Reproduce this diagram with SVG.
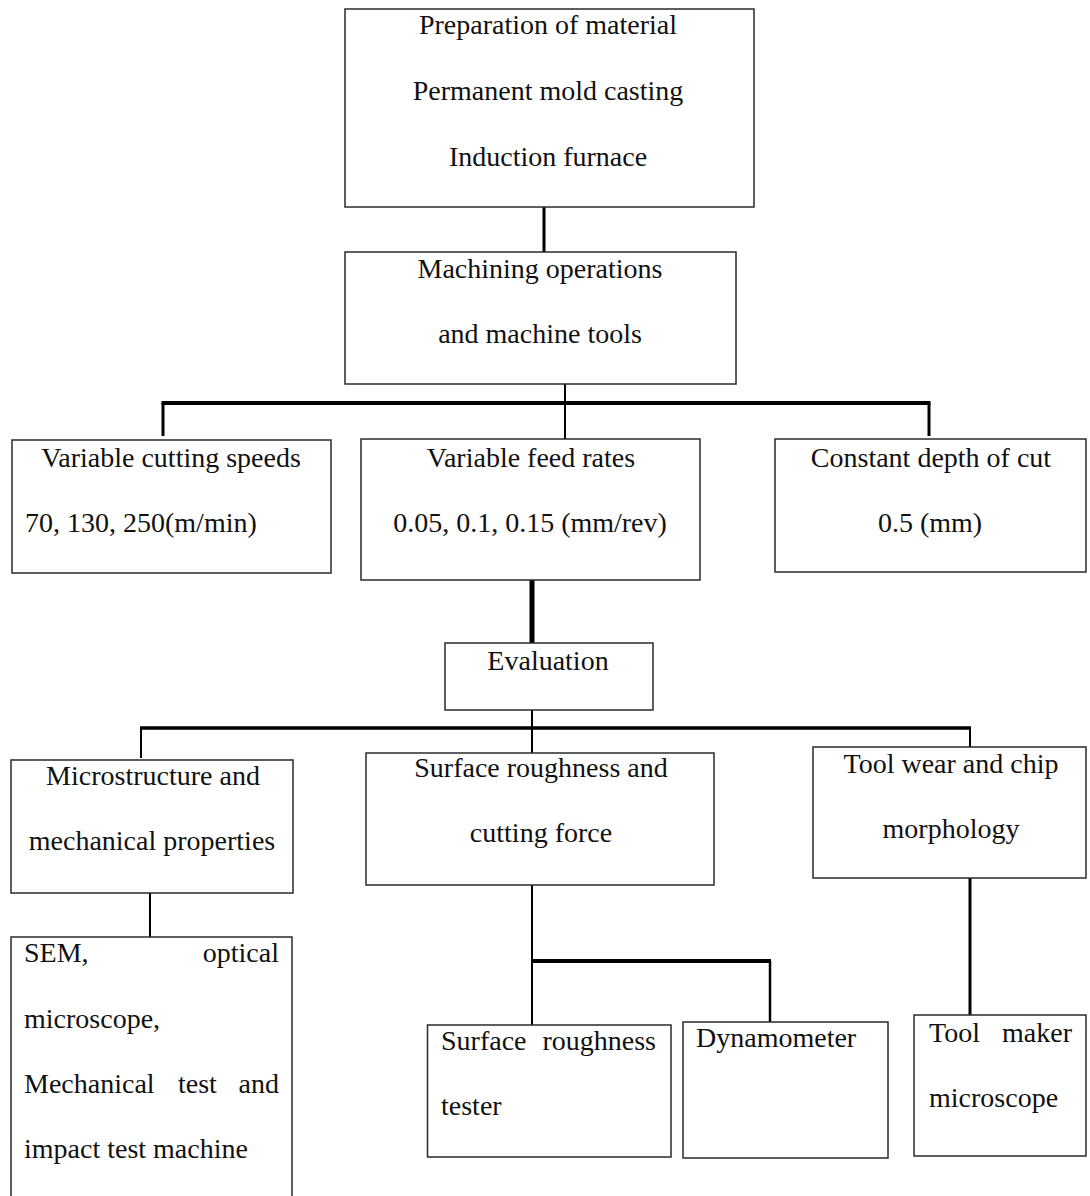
<svg xmlns="http://www.w3.org/2000/svg" width="1090" height="1196" viewBox="0 0 1090 1196">
<style>
.box{fill:#fff;stroke:#2a2a2a;stroke-width:1.5}
.t{font-family:"Liberation Serif","Times New Roman",serif;font-size:28px;fill:#111}
.c{text-anchor:middle}
.ln{stroke:#000;fill:none}
</style>
<rect width="1090" height="1196" fill="#fff"/>
<g id="connectors">
<line class="ln" x1="544" y1="207" x2="544" y2="253" stroke-width="3"/>
<line class="ln" x1="565" y1="384" x2="565" y2="440" stroke-width="2"/>
<line class="ln" x1="161.5" y1="403" x2="930.5" y2="403" stroke-width="4"/>
<line class="ln" x1="163" y1="403" x2="163" y2="436" stroke-width="3"/>
<line class="ln" x1="929" y1="403" x2="929" y2="436" stroke-width="3"/>
<line class="ln" x1="532" y1="580" x2="532" y2="643" stroke-width="5"/>
<line class="ln" x1="532" y1="710" x2="532" y2="753" stroke-width="2"/>
<line class="ln" x1="140" y1="728" x2="971" y2="728" stroke-width="3.5"/>
<line class="ln" x1="141" y1="728" x2="141" y2="758" stroke-width="2"/>
<line class="ln" x1="970" y1="728" x2="970" y2="748" stroke-width="2"/>
<line class="ln" x1="150" y1="893" x2="150" y2="937" stroke-width="2"/>
<line class="ln" x1="532" y1="885" x2="532" y2="1025" stroke-width="2"/>
<line class="ln" x1="532" y1="961" x2="771" y2="961" stroke-width="4"/>
<line class="ln" x1="770" y1="961" x2="770" y2="1022" stroke-width="2.5"/>
<line class="ln" x1="970" y1="878" x2="970" y2="1015" stroke-width="3"/>
</g>
<g id="n-prep">
<rect class="box" x="345" y="9" width="409" height="198"/>
<text class="t c" x="548" y="34">Preparation of material</text>
<text class="t c" x="548" y="100">Permanent mold casting</text>
<text class="t c" x="548" y="166">Induction furnace</text>
</g>
<g id="n-mach">
<rect class="box" x="345" y="252" width="391" height="132"/>
<text class="t c" x="540" y="278">Machining operations</text>
<text class="t c" x="540" y="343">and machine tools</text>
</g>
<g id="n-speed">
<rect class="box" x="12" y="440" width="319" height="133"/>
<text class="t c" x="171" y="467">Variable cutting speeds</text>
<text class="t" x="25" y="532">70, 130, 250(m/min)</text>
</g>
<g id="n-feed">
<rect class="box" x="361" y="439" width="339" height="141"/>
<text class="t c" x="531" y="467">Variable feed rates</text>
<text class="t c" x="530" y="532">0.05, 0.1, 0.15 (mm/rev)</text>
</g>
<g id="n-depth">
<rect class="box" x="775" y="439" width="311" height="133"/>
<text class="t c" x="931" y="467">Constant depth of cut</text>
<text class="t c" x="930" y="532">0.5 (mm)</text>
</g>
<g id="n-eval">
<rect class="box" x="445" y="643" width="208" height="67"/>
<text class="t c" x="548" y="670">Evaluation</text>
</g>
<g id="n-micro">
<rect class="box" x="11" y="760" width="282" height="133"/>
<text class="t c" x="153" y="785">Microstructure and</text>
<text class="t c" x="152" y="850">mechanical properties</text>
</g>
<g id="n-surf">
<rect class="box" x="366" y="753" width="348" height="132"/>
<text class="t c" x="541" y="777">Surface roughness and</text>
<text class="t c" x="541" y="842">cutting force</text>
</g>
<g id="n-tool">
<rect class="box" x="813" y="747" width="273" height="131"/>
<text class="t c" x="951" y="773">Tool wear and chip</text>
<text class="t c" x="951" y="838">morphology</text>
</g>
<g id="n-sem">
<path class="box" d="M11,1197 V937 H292 V1197"/>
<text class="t" x="24" y="962">SEM,</text>
<text class="t" x="279" y="962" text-anchor="end">optical</text>
<text class="t" x="24" y="1028">microscope,</text>
<text class="t" x="24" y="1093">Mechanical</text>
<text class="t" x="178" y="1093">test</text>
<text class="t" x="279" y="1093" text-anchor="end">and</text>
<text class="t" x="24" y="1158">impact test machine</text>
</g>
<g id="n-tester">
<rect class="box" x="427.5" y="1025" width="243.5" height="132"/>
<text class="t" x="441" y="1050">Surface</text>
<text class="t" x="656" y="1050" text-anchor="end">roughness</text>
<text class="t" x="441" y="1115">tester</text>
</g>
<g id="n-dyn">
<rect class="box" x="683" y="1022" width="205" height="136"/>
<text class="t" x="696" y="1047">Dynamometer</text>
</g>
<g id="n-maker">
<rect class="box" x="914" y="1015" width="172" height="141"/>
<text class="t" x="929" y="1042">Tool</text>
<text class="t" x="1072" y="1042" text-anchor="end">maker</text>
<text class="t" x="929" y="1107">microscope</text>
</g>
</svg>
